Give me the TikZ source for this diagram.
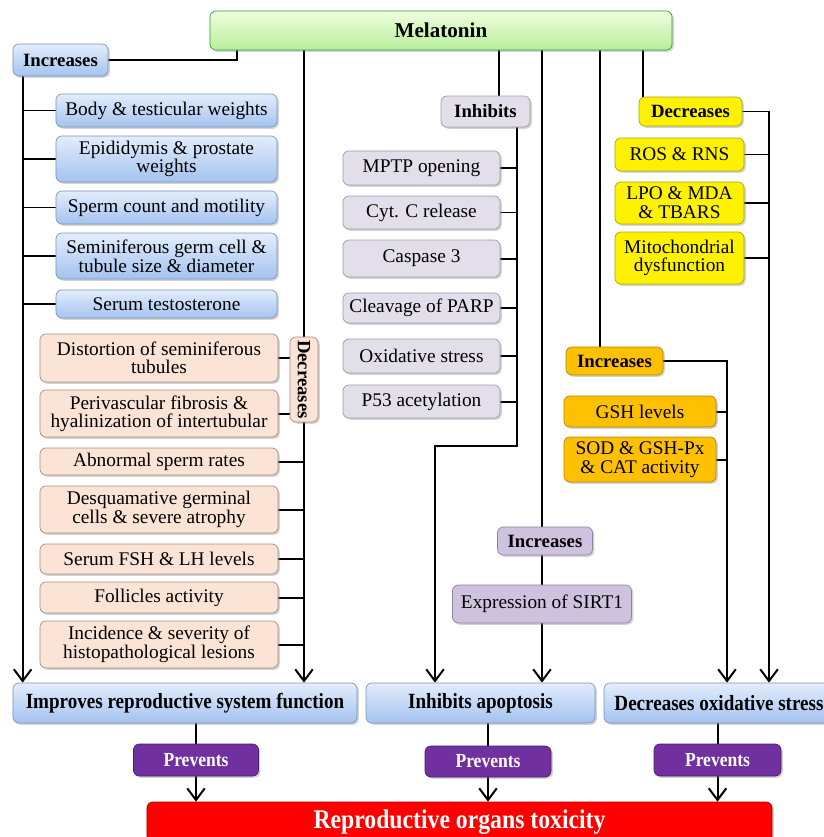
\documentclass[tikz,border=0pt]{standalone}
\usepackage{fontspec}
\setmainfont{Liberation Serif}
\newfontfamily\narrowfont[FakeStretch=0.88]{Liberation Serif}
\usetikzlibrary{arrows.meta,shadows,backgrounds,calc}

\definecolor{bluetop}{HTML}{E3EDFC}
\definecolor{bluebot}{HTML}{A3C3F0}
\definecolor{blueline}{HTML}{7D94B5}
\definecolor{peachfill}{HTML}{FBE4D5}
\definecolor{peachline}{HTML}{A38D7E}
\definecolor{greyfill}{HTML}{E2DEEA}
\definecolor{greyline}{HTML}{9C98A6}
\definecolor{lilacfill}{HTML}{CEC2DE}
\definecolor{lilacline}{HTML}{8E839E}
\definecolor{greentop}{HTML}{F0FDDF}
\definecolor{greenbot}{HTML}{B7EF9A}
\definecolor{greenline}{HTML}{2E9A3E}
\definecolor{yellowline}{HTML}{A8A800}
\definecolor{orangefill}{HTML}{FFC000}
\definecolor{orangeline}{HTML}{B08400}
\definecolor{purplefill}{HTML}{7030A0}
\definecolor{purpleline}{HTML}{4A1D6E}
\definecolor{redline}{HTML}{A00000}

\tikzset{
  sz/.style 2 args={minimum width=#1*0.3mm, minimum height=#2*0.3mm},
  box/.style={draw, rounded corners=5pt, line width=0.6pt, align=center, inner sep=2pt,
    font=\fontsize{16.5}{16}\selectfont,
    drop shadow={shadow xshift=1.5pt, shadow yshift=-1.5pt, opacity=0.35}},
  boldlabel/.style={font=\fontsize{16}{16}\selectfont\bfseries},
  bluebox/.style={box, draw=blueline, top color=bluetop, bottom color=bluebot},
  peachbox/.style={box, draw=peachline, fill=peachfill, font=\fontsize{16.5}{15}\selectfont},
  greybox/.style={box, draw=greyline, fill=greyfill},
  lilacbox/.style={box, draw=lilacline, fill=lilacfill},
  greenbox/.style={box, draw=greenline, top color=greentop, bottom color=greenbot},
  yellowbox/.style={box, draw=yellowline, fill=yellow, font=\fontsize{16.5}{16}\selectfont},
  orangebox/.style={box, draw=orangeline, fill=orangefill},
  purplebox/.style={box, draw=purpleline, fill=purplefill, text=white,
    font=\narrowfont\fontsize{17}{17}\selectfont\bfseries},
  resultbox/.style={bluebox, font=\narrowfont\fontsize{18.5}{18}\selectfont\bfseries},
  redbox/.style={box, draw=redline, fill=red, text=white,
    font=\narrowfont\fontsize{23}{23}\selectfont\bfseries},
}

\begin{document}
\begin{tikzpicture}[x=0.03cm, y=-0.03cm,
    arr/.style={-{Straight Barb[length=10pt,width=15pt]}}]
    \useasboundingbox (0,0) rectangle (824,837);
    \clip (0,0) rectangle (824,837);

    % top
    \node (mel) at (441,30.5)[greenbox, sz={462}{39}, font=\fontsize{18}{18}\selectfont\bfseries]{Melatonin};

    % left column
    \node (inc1) at (60.5,60)[bluebox, boldlabel, sz={95}{32}]{Increases};
    \foreach \n/\y/\h/\t in {b1/110.5/33/{Body \& testicular weights},
        b2/159/46/{Epididymis \& prostate\\weights},
        b3/207.5/33/{Sperm count and motility},
        b4/256/46/{Seminiferous germ cell \&\\tubule size \& diameter},
        b5/304/28/{Serum testosterone}}
    {
        \node (\n) at (166.5,\y)[bluebox, sz={221}{\h}]{\t};
    }
    \node (dec1) at (304,379.5)[peachbox, boldlabel, rotate=-90, sz={85}{28}]{Decreases};
    \foreach \n/\y/\h/\t in {p1/358/48/{Distortion of seminiferous\\tubules},
        p2/413.5/47/{Perivascular fibrosis \&\\hyalinization of intertubular},
        p3/461.5/27/{Abnormal sperm rates},
        p4/509.5/47/{Desquamative germinal\\cells \& severe atrophy},
        p5/559/30/{Serum FSH \& LH levels},
        p6/597.5/31/{Follicles activity},
        p7/644.5/47/{Incidence \& severity of\\histopathological lesions}}
    {
        \node (\n) at (159,\y)[peachbox, sz={238}{\h}]{\t};
    }

    % middle column
    \node (inh) at (485.5,111.5)[greybox, boldlabel, sz={89}{31}]{Inhibits};
    \foreach \n/\y/\h/\t in {g1/168/34/{MPTP opening},
        g2/212.5/33/{Cyt. C release},
        g3/258.5/37/{Caspase 3},
        g4/308/30/{Cleavage of PARP},
        g5/356/34/{Oxidative stress},
        g6/401.5/33/{P53 acetylation}}
    {
        \node (\n) at (421.5,\y)[greybox, sz={157}{\h}]{\t};
    }
    \node (inc3) at (545,541)[lilacbox, boldlabel, sz={95}{28}]{Increases};
    \node (sirt) at (542,604)[lilacbox, sz={179}{38}]{Expression of SIRT1};

    % right column
    \node (dec2) at (690.5,111.5)[yellowbox, boldlabel, sz={103}{29}]{Decreases};
    \foreach \n/\y/\h/\t in {y1/154.5/33/{ROS \& RNS},
        y2/203/42/{LPO \& MDA\\\& TBARS},
        y3/258/52/{Mitochondrial\\dysfunction}}
    {
        \node (\n) at (679.5,\y)[yellowbox, sz={129}{\h}]{\t};
    }
    \node (inc2) at (614.5,361)[orangebox, boldlabel, sz={97}{28}]{Increases};
    \node (o1) at (640,411.5)[orangebox, sz={152}{31}]{GSH levels};
    \node (o2) at (640,459.5)[orangebox, sz={152}{45}]{SOD \& GSH-Px\\\& CAT activity};

    % bottom
    \node (improve) at (185,703)[resultbox, sz={344}{40}]{Improves reproductive system function};
    \node (apop) at (480.5,703)[resultbox, sz={229}{40}]{Inhibits apoptosis};
    \node (oxid) at (719,703)[resultbox, sz={230}{40}]{Decreases oxidative stress};
    \node (prev1) at (196,760)[purplebox, sz={125}{32}]{Prevents};
    \node (prev2) at (488,761.5)[purplebox, sz={126}{31}]{Prevents};
    \node (prev3) at (717.5,760)[purplebox, sz={127}{32}]{Prevents};
    \node (red) at (459.5,822)[redbox, sz={625}{40}]{Reproductive organs toxicity};

    \begin{scope}[on background layer={line width=1.7pt}]
        % increases
        \draw ($(mel.south west)+(27,0)$) |- (inc1.east);
        \coordinate (lsp) at ($(inc1.south west)+(10,0)$);
        \draw[arr] (lsp) -- (lsp |- improve.north);
        \foreach \n in {b1,b2,b3,b4,b5}
            \draw (\n.west) -- (\n.west -| lsp);
        % decreases
        \draw[arr] (mel.south -| dec1) -- (improve.north -| dec1);
        \foreach \n in {p1,p2,p3,p4,p5,p6,p7}
            \draw (\n.east) -- (\n.east -| dec1);
        % inhibits
        \coordinate (itop) at ($(inh.north east)+(-31,0)$);
        \draw (itop |- mel.south) -- (itop);
        \coordinate (isp) at ($(inh.south east)+(-13,0)$);
        \coordinate (ibend) at (435,446);
        \draw[arr] (isp) |- (ibend) -- (ibend |- apop.north);
        \foreach \n in {g1,g2,g3,g4,g5,g6}
            \draw (\n.east) -- (\n.east -| isp);
        % sirt1
        \draw (mel.south -| sirt) -- (inc3.north -| sirt);
        \draw (inc3.south -| sirt) -- (sirt.north);
        \draw[arr] (sirt.south) -- (sirt.south |- apop.north);
        % orange
        \coordinate (otop) at ($(inc2.north west)+(34,0)$);
        \draw (otop |- mel.south) -- (otop);
        \coordinate (osp) at (727,361);
        \draw[arr] (inc2.east) -- (osp) -- (osp |- oxid.north);
        \foreach \n in {o1,o2}
            \draw (\n.east) -- (\n.east -| osp);
        % yellow
        \coordinate (ytop) at ($(dec2.north west)+(4,0)$);
        \draw (ytop |- mel.south) -- (ytop);
        \coordinate (ysp) at (769,111.5);
        \draw[arr] (dec2.east) -- (ysp) -- (ysp |- oxid.north);
        \foreach \n in {y1,y2,y3}
            \draw (\n.east) -- (\n.east -| ysp);
        % prevents
        \draw (improve.south -| prev1) -- (prev1.north);
        \draw[arr] (prev1.south) -- (prev1.south |- red.north);
        \draw (apop.south -| prev2) -- (prev2.north);
        \draw[arr] (prev2.south) -- (prev2.south |- red.north);
        \draw (oxid.south -| prev3) -- (prev3.north);
        \draw[arr] (prev3.south) -- (prev3.south |- red.north);
    \end{scope}
\end{tikzpicture}
\end{document}
